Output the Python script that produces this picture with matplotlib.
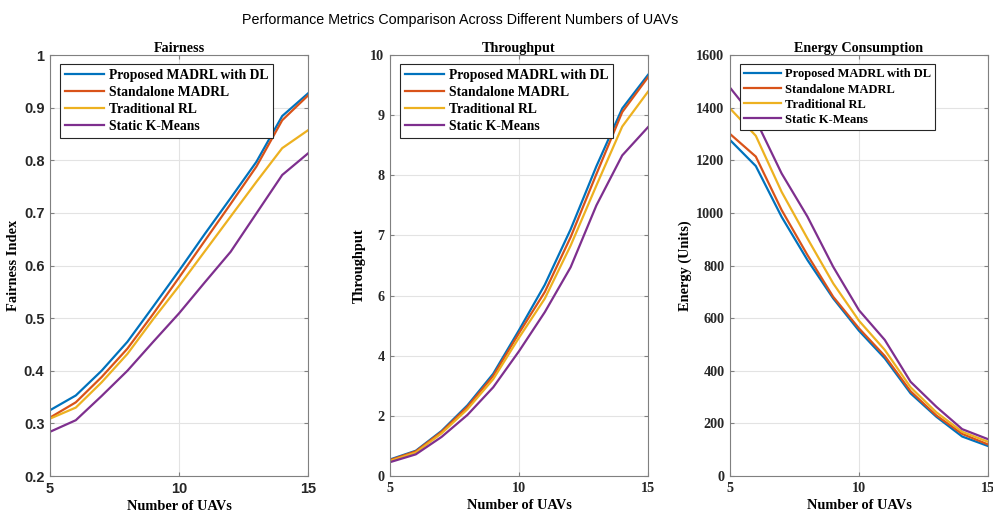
import numpy as np
import matplotlib
matplotlib.use("Agg")
import matplotlib.pyplot as plt

uavs = [5, 6, 7, 8, 9, 10, 11, 12, 13, 14, 15]
methods = ["Proposed MADRL with DL", "Standalone MADRL", "Traditional RL", "Static K-Means"]
colors = ["#0072BD", "#D95319", "#EDB120", "#7E2F8E"]

fair_proposed = [0.325, 0.353, 0.400, 0.455, 0.522, 0.590, 0.660, 0.728, 0.797, 0.884, 0.927]
fair_standalone = [0.311, 0.340, 0.388, 0.442, 0.508, 0.577, 0.647, 0.717, 0.788, 0.876, 0.923]
fair_traditional = [0.309, 0.330, 0.378, 0.432, 0.498, 0.561, 0.627, 0.693, 0.759, 0.823, 0.857]
fair_kmeans = [0.284, 0.306, 0.352, 0.400, 0.455, 0.509, 0.568, 0.626, 0.699, 0.772, 0.813]

thr_proposed = [0.55, 0.84, 1.50, 2.35, 3.40, 4.85, 6.18, 7.10, 8.15, 9.11, 9.67]
thr_standalone = [0.53, 0.82, 1.47, 2.30, 3.33, 4.75, 6.06, 6.97, 8.02, 9.05, 9.63]
thr_traditional = [0.50, 0.78, 1.42, 2.22, 3.22, 4.60, 5.90, 6.83, 7.83, 8.81, 9.39]
thr_kmeans = [0.46, 0.72, 1.30, 2.03, 2.95, 4.15, 5.45, 6.47, 7.50, 8.33, 8.80]

en_proposed = [1277, 1178, 985, 821, 675, 552, 447, 314, 225, 150, 114]
en_standalone = [1300, 1214, 1011, 840, 681, 561, 456, 322, 230, 160, 120]
en_traditional = [1397, 1293, 1080, 903, 732, 590, 479, 337, 242, 168, 130]
en_kmeans = [1476, 1353, 1150, 986, 795, 630, 517, 358, 263, 178, 140]

fair_ticks = [0.2, 0.3, 0.4, 0.5, 0.6, 0.7, 0.8, 0.9, 1.0]
fair_ticklabels = ["0.2", "0.3", "0.4", "0.5", "0.6", "0.7", "0.8", "0.9", "1"]
thr_ticks = [0, 2, 4, 6, 7, 8, 9, 10]
en_ticks = [0, 200, 400, 600, 800, 1000, 1200, 1400, 1600]

serif = "Liberation Serif"
sans = "Liberation Sans"


# throughput axis: ticks 0,2,4,6 then 7,8,9,10 are evenly spaced
def thr_fwd(y):
    y = np.asarray(y, dtype=float)
    return np.where(y <= 6, y / 2, y - 3)


def thr_inv(p):
    p = np.asarray(p, dtype=float)
    return np.where(p <= 3, p * 2, p + 3)


fig = plt.figure(figsize=(9.93, 5.14), dpi=100)
W, H = 993, 514
boxes = [(50, 308), (390, 648), (730, 988)]
axes = [fig.add_axes([l / W, (H - 476) / H, (r - l) / W, 421 / H]) for l, r in boxes]

panels = [
    ("Fairness", "Fairness Index", [fair_proposed, fair_standalone, fair_traditional, fair_kmeans]),
    ("Throughput", "Throughput", [thr_proposed, thr_standalone, thr_traditional, thr_kmeans]),
    ("Energy Consumption", "Energy (Units)", [en_proposed, en_standalone, en_traditional, en_kmeans]),
]

for i, (ax, (title, ylabel, series)) in enumerate(zip(axes, panels)):
    for name, vals, c in zip(methods, series, colors):
        ax.plot(uavs, vals, color=c, lw=1.6, label=name)
    ax.set_xlim(5, 15)
    ax.set_xticks([5, 10, 15])
    ax.grid(True, color="#e3e3e3", lw=0.8)
    ax.set_axisbelow(True)
    for s in ax.spines.values():
        s.set_color("#808080")
        s.set_linewidth(0.8)
    ax.tick_params(direction="in", top=True, right=True, length=3, color="#808080",
                   labelcolor="#262626", pad=4)
    ax.set_title(title, fontfamily=serif, fontweight="bold", fontsize=10.2, pad=2)
    ax.set_xlabel("Number of UAVs", fontfamily=serif, fontweight="bold", fontsize=10.4, labelpad=3)
    ax.set_ylabel(ylabel, fontfamily=serif, fontweight="bold", fontsize=10.4, labelpad=3)

ax0, ax1, ax2 = axes
ax0.set_ylim(0.2, 1.0)
ax0.set_yticks(fair_ticks)
ax0.set_yticklabels(fair_ticklabels)

ax1.set_yscale("function", functions=(thr_fwd, thr_inv))
ax1.set_ylim(0, 10)
ax1.set_yticks(thr_ticks)
ax1.set_yticklabels([str(t) for t in thr_ticks])
ax1.minorticks_off()

ax2.set_ylim(0, 1600)
ax2.set_yticks(en_ticks)

for lab in ax0.get_xticklabels() + ax0.get_yticklabels():
    lab.set_fontfamily(sans)
    lab.set_fontweight("bold")
    lab.set_fontsize(10.5)
for ax in (ax1, ax2):
    for lab in ax.get_xticklabels() + ax.get_yticklabels():
        lab.set_fontfamily(serif)
        lab.set_fontweight("bold")
        lab.set_fontsize(10.2)

for ax, fs, sp in ((ax0, 9.8, 0.3), (ax1, 9.8, 0.3), (ax2, 9, 0.25)):
    leg = ax.legend(loc="upper left", bbox_to_anchor=(10 / 258, 1 - 9 / 421), fancybox=False,
                    edgecolor="#262626", framealpha=1,
                    prop={"family": serif, "weight": "bold", "size": fs},
                    handlelength=2.9, handletextpad=0.35, borderpad=0.35,
                    labelspacing=sp, borderaxespad=0)
    leg.get_frame().set_linewidth(0.8)

fig.text(460 / W, 1 - 20 / H, "Performance Metrics Comparison Across Different Numbers of UAVs",
         ha="center", va="center", fontfamily=sans, fontsize=10.3)

fig.savefig("out.png", dpi=100)
